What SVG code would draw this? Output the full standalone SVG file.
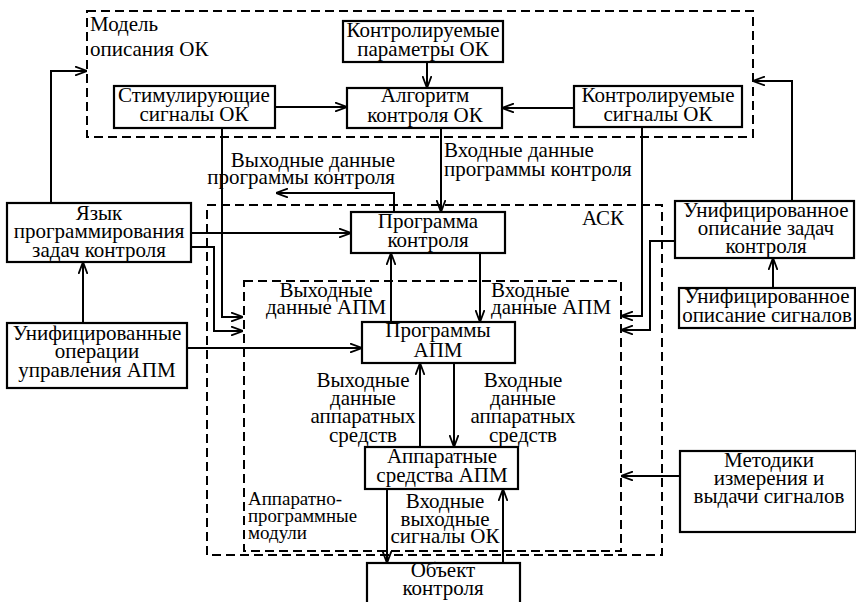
<svg xmlns="http://www.w3.org/2000/svg" width="856" height="602" viewBox="0 0 856 602">
<defs>
<marker id="ah" viewBox="0 0 12 10" refX="12" refY="5" markerWidth="12" markerHeight="10" markerUnits="userSpaceOnUse" orient="auto">
<path d="M0,0.5 L12,5 L0,9.5" fill="none" stroke="#000" stroke-width="1.8"/>
</marker>
</defs>
<style>
text{font-family:"Liberation Serif","Times New Roman",serif;font-size:21px;fill:#000}
.c{text-anchor:middle}
.e{text-anchor:end}
.box{fill:#fff;stroke:#000;stroke-width:2.2}
.dash{fill:none;stroke:#000;stroke-width:2;stroke-dasharray:9,5}
.ar{fill:none;stroke:#000;stroke-width:2;marker-end:url(#ah)}
.sm{font-size:19px}
</style>
<rect width="856" height="602" fill="#fff"/>

<g id="containers">
<rect class="dash" x="87" y="11" width="666" height="126"/>
<text x="90" y="31">Модель</text>
<text x="90" y="56">описания ОК</text>
<rect class="dash" x="207" y="205" width="455" height="350"/>
<text class="c" x="603" y="225">АСК</text>
<rect class="dash" x="244" y="281" width="377" height="270"/>
<text class="sm" x="248" y="505" textLength="94" lengthAdjust="spacingAndGlyphs">Аппаратно-</text>
<text class="sm" x="248" y="522" textLength="109" lengthAdjust="spacingAndGlyphs">программные</text>
<text class="sm" x="248" y="539" textLength="59" lengthAdjust="spacingAndGlyphs">модули</text>
</g>

<g id="connectors">
<path class="ar" d="M427,62 V88"/>
<path class="ar" d="M275,107 H347"/>
<path class="ar" d="M574,108 H502"/>
<path class="ar" d="M441,128 V212"/>
<path class="ar" d="M394,212 V193 H276"/>
<path class="ar" d="M51,203 V71 H87"/>
<path class="ar" d="M792,201 V81 H753"/>
<path class="ar" d="M191,233 H351"/>
<path class="ar" d="M222,128 V317 H243"/>
<path class="ar" d="M191,247 H214 V331 H243"/>
<path class="ar" d="M83,323 V262"/>
<path class="ar" d="M187,348 H362"/>
<path class="ar" d="M391,322 V253"/>
<path class="ar" d="M480,253 V322"/>
<path class="ar" d="M642,127 V316 H621"/>
<path class="ar" d="M675,241 H650 V330 H621"/>
<path class="ar" d="M773,288 V258"/>
<path class="ar" d="M420,447 V363"/>
<path class="ar" d="M454,363 V447"/>
<path class="ar" d="M387,489 V563"/>
<path class="ar" d="M503,563 V489"/>
<path class="ar" d="M680,476 H621"/>
<text class="e" x="395" y="167">Выходные данные</text>
<text class="e" x="395" y="184">программы контроля</text>
<text x="444" y="157">Входные данные</text>
<text x="444" y="176">программы контроля</text>
<text class="c" x="326" y="297">Выходные</text>
<text class="c" x="326" y="314">данные АПМ</text>
<text x="491" y="297">Входные</text>
<text x="491" y="314">данные АПМ</text>
<text class="c" x="363" y="387">Выходные</text>
<text class="c" x="363" y="405">данные</text>
<text class="c" x="363" y="423">аппаратных</text>
<text class="c" x="363" y="442">средств</text>
<text class="c" x="523" y="387">Входные</text>
<text class="c" x="523" y="405">данные</text>
<text class="c" x="523" y="423">аппаратных</text>
<text class="c" x="523" y="442">средств</text>
<text class="c" x="445" y="508">Входные</text>
<text class="c" x="445" y="526">выходные</text>
<text class="c" x="445" y="543">сигналы ОК</text>
</g>

<g id="kontr-param">
<rect class="box" x="343" y="21" width="160" height="41"/>
<text class="c" x="423" y="37">Контролируемые</text>
<text class="c" x="423" y="56">параметры ОК</text>
</g>
<g id="algoritm">
<rect class="box" x="347" y="88" width="155" height="40"/>
<text class="c" x="425" y="102">Алгоритм</text>
<text class="c" x="425" y="122">контроля ОК</text>
</g>
<g id="stim">
<rect class="box" x="114" y="86" width="161" height="42"/>
<text class="c" x="194" y="102">Стимулирующие</text>
<text class="c" x="194" y="121">сигналы ОК</text>
</g>
<g id="kontr-sign">
<rect class="box" x="574" y="86" width="168" height="41"/>
<text class="c" x="658" y="102">Контролируемые</text>
<text class="c" x="658" y="121">сигналы ОК</text>
</g>
<g id="yazyk">
<rect class="box" x="7" y="203" width="184" height="59"/>
<text class="c" x="99" y="220">Язык</text>
<text class="c" x="99" y="238">программирования</text>
<text class="c" x="99" y="257">задач контроля</text>
</g>
<g id="unif-oper">
<rect class="box" x="7" y="323" width="180" height="65"/>
<text class="c" x="97" y="340">Унифицированные</text>
<text class="c" x="97" y="358">операции</text>
<text class="c" x="97" y="377">управления АПМ</text>
</g>
<g id="programma">
<rect class="box" x="351" y="212" width="154" height="41"/>
<text class="c" x="428" y="228">Программа</text>
<text class="c" x="428" y="247">контроля</text>
</g>
<g id="programmy-apm">
<rect class="box" x="362" y="322" width="153" height="41"/>
<text class="c" x="438" y="337">Программы</text>
<text class="c" x="438" y="357">АПМ</text>
</g>
<g id="apparat">
<rect class="box" x="365" y="447" width="153" height="42"/>
<text class="c" x="442" y="463">Аппаратные</text>
<text class="c" x="442" y="482">средства АПМ</text>
</g>
<g id="obekt">
<rect class="box" x="367" y="563" width="153" height="45"/>
<text class="c" x="443" y="577">Объект</text>
<text class="c" x="443" y="595">контроля</text>
</g>
<g id="unif-zadach">
<rect class="box" x="675" y="201" width="179" height="57"/>
<text class="c" x="766" y="217">Унифицированное</text>
<text class="c" x="766" y="235">описание задач</text>
<text class="c" x="766" y="253">контроля</text>
</g>
<g id="unif-sign">
<rect class="box" x="679" y="288" width="176" height="40"/>
<text class="c" x="767" y="303">Унифицированное</text>
<text class="c" x="767" y="322">описание сигналов</text>
</g>
<g id="metodiki">
<rect class="box" x="680" y="451" width="176" height="81"/>
<text class="c" x="769" y="467">Методики</text>
<text class="c" x="769" y="485">измерения и</text>
<text class="c" x="769" y="503">выдачи сигналов</text>
</g>
</svg>
